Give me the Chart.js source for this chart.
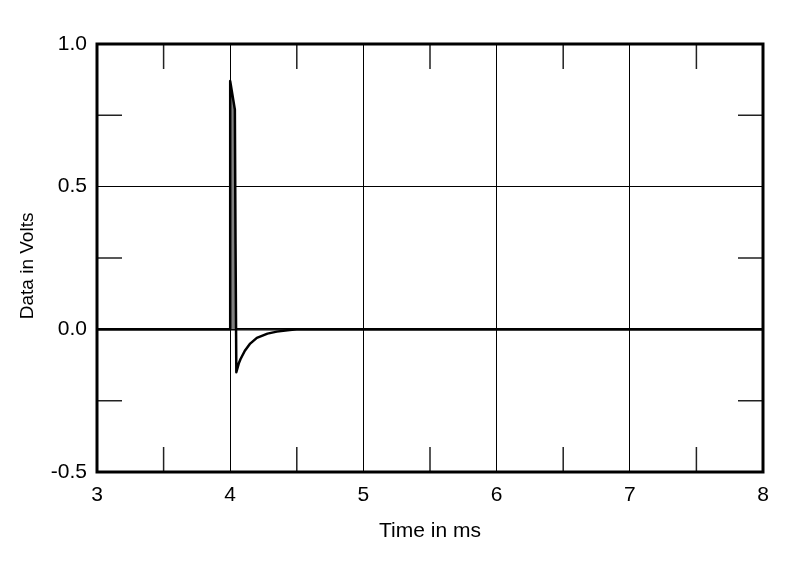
<!DOCTYPE html>
<html>
<head>
<meta charset="utf-8">
<script src="https://cdn.jsdelivr.net/npm/chart.js@4.4.0/dist/chart.umd.min.js"></script>
<style>
  body { margin: 0; background: #fff; }
</style>
</head>
<body>
<canvas id="myChart" width="808" height="566"></canvas>
<script>
// impulse response
let timeMs = [3, 3.999, 4.0, 4.035, 4.04, 4.046, 4.064, 4.077, 4.11, 4.15, 4.2, 4.28, 4.35, 4.43, 4.5, 8];
let volts  = [0, 0, 0.87, 0.77, 0.3, -0.15, -0.12, -0.105, -0.075, -0.05, -0.03, -0.015, -0.008, -0.003, 0, 0];

let xMinorTicks = [3.5, 4.5, 5.5, 6.5, 7.5];
let yMinorTicks = [0.75, 0.25, -0.25];

let fontFamily = '"Liberation Sans", Arial, sans-serif';

// frame round the plot plus the short inner ticks
const frameAndTicks = {
  id: 'frameAndTicks',
  afterDraw(chart) {
    const c = chart.ctx;
    const a = chart.chartArea;
    const xs = chart.scales.x;
    const ys = chart.scales.y;
    const len = 25;
    c.save();
    c.strokeStyle = '#222';
    c.lineWidth = 1.5;
    c.beginPath();
    xMinorTicks.forEach(v => {
      let px = xs.getPixelForValue(v);
      c.moveTo(px, a.top); c.lineTo(px, a.top + len);
      c.moveTo(px, a.bottom); c.lineTo(px, a.bottom - len);
    });
    yMinorTicks.forEach(v => {
      let py = ys.getPixelForValue(v);
      c.moveTo(a.left, py); c.lineTo(a.left + len, py);
      c.moveTo(a.right, py); c.lineTo(a.right - len, py);
    });
    c.stroke();
    c.strokeStyle = '#000';
    c.lineWidth = 3;
    c.strokeRect(a.left, a.top, a.right - a.left, a.bottom - a.top);
    c.restore();
  }
};

let ctx = document.getElementById('myChart').getContext('2d');
let myChart = new Chart(ctx, {
  type: 'line',
  data: {
    datasets: [{
      data: timeMs.map((t, i) => ({ x: t, y: volts[i] })),
      borderColor: '#000',
      borderWidth: 2.5,
      borderJoinStyle: 'round',
      pointRadius: 0,
      tension: 0,
      fill: { target: 'origin', above: '#808080', below: 'rgba(0,0,0,0)' }
    }]
  },
  options: {
    responsive: false,
    animation: false,
    layout: { padding: { top: 44, right: 45, left: 0, bottom: 0 } },
    plugins: { legend: { display: false }, tooltip: { enabled: false } },
    scales: {
      x: {
        type: 'linear',
        min: 3,
        max: 8,
        afterFit: s => { s.height = 94; },
        ticks: {
          stepSize: 1,
          padding: 11,
          color: '#000',
          font: { family: fontFamily, size: 21 }
        },
        grid: { color: '#000', lineWidth: 1, drawTicks: false },
        border: { display: false },
        title: {
          display: true,
          text: 'Time in ms',
          color: '#000',
          font: { family: fontFamily, size: 21 },
          padding: { top: 0, bottom: 22 }
        }
      },
      y: {
        min: -0.5,
        max: 1.0,
        afterFit: s => { s.width = 97; },
        ticks: {
          stepSize: 0.5,
          padding: 10,
          color: '#000',
          font: { family: fontFamily, size: 21 },
          callback: v => v.toFixed(1)
        },
        grid: {
          color: '#000',
          lineWidth: c => (c.tick && c.tick.value === 0 ? 2.5 : 1),
          drawTicks: false
        },
        border: { display: false },
        title: {
          display: true,
          // trailing spaces nudge the label a little below the middle, as in the original
          text: 'Data in Volts   ',
          color: '#000',
          font: { family: fontFamily, size: 19 },
          padding: { top: 16, bottom: 0 }
        }
      }
    }
  },
  plugins: [frameAndTicks]
});
</script>
</body>
</html>
